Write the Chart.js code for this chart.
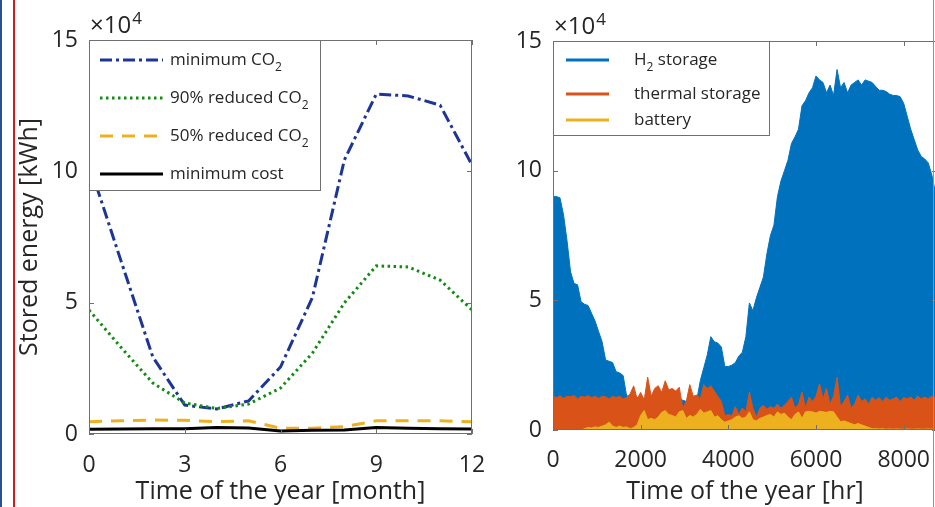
<!DOCTYPE html>
<html>
<head>
<meta charset="utf-8">
<script src="https://cdn.jsdelivr.net/npm/chart.js@4.4.0/dist/chart.umd.min.js"></script>
<style>
html, body { margin: 0; padding: 0; background: #fff; overflow: hidden; }
#wrap { position: relative; width: 935px; height: 507px; overflow: hidden; }
#left { position: absolute; left: 0; top: 0; }
#right { position: absolute; left: 480px; top: 0; }
.edge { position: absolute; top: 0; height: 507px; }
</style>
</head>
<body>
<div id="wrap">
  <canvas id="left" width="520" height="507"></canvas>
  <canvas id="right" width="480" height="507"></canvas>
  <div class="edge" style="left:0;width:2px;background:#2a4f93"></div>
  <div class="edge" style="left:13px;width:2px;background:#d11a1a"></div>
  <div class="edge" style="left:933px;width:1px;background:#e07070"></div>
</div>
<script>
// left panel: stored energy per month, in 10^4 kWh
const months = [0, 1, 2, 3, 4, 5, 6, 7, 8, 9, 10, 11, 12];
const minCO2    = [10.3, 6.6, 2.93, 1.1, 0.95, 1.26, 2.55, 5.2, 10.43, 12.94, 12.87, 12.52, 10.24];
const reduced90 = [4.72, 3.3, 1.94, 1.18, 0.97, 1.14, 1.75, 3.08, 4.99, 6.4, 6.36, 5.86, 4.72];
const reduced50 = [0.47, 0.5, 0.53, 0.52, 0.47, 0.5, 0.22, 0.22, 0.28, 0.5, 0.5, 0.5, 0.47];
const minCost   = [0.18, 0.19, 0.2, 0.2, 0.25, 0.23, 0.11, 0.14, 0.15, 0.25, 0.22, 0.2, 0.19];
const monthTicks = [0, 3, 6, 9, 12];

// right panel: storage level over the year (hours), in 10^4 kWh
const hours = [
  0, 80, 160, 240, 320, 400, 480, 560, 640, 720,
  800, 880, 960, 1040, 1120, 1200, 1280, 1360, 1440, 1520,
  1600, 1680, 1760, 1840, 1920, 2000, 2080, 2160, 2240, 2320,
  2400, 2480, 2560, 2640, 2720, 2800, 2880, 2960, 3040, 3120,
  3200, 3280, 3360, 3440, 3520, 3600, 3680, 3760, 3840, 3920,
  4000, 4080, 4160, 4240, 4320, 4400, 4480, 4560, 4640, 4720,
  4800, 4880, 4960, 5040, 5120, 5200, 5280, 5360, 5440, 5520,
  5600, 5680, 5760, 5840, 5920, 6000, 6080, 6160, 6240, 6320,
  6400, 6480, 6560, 6640, 6720, 6800, 6880, 6960, 7040, 7120,
  7200, 7280, 7360, 7440, 7520, 7600, 7680, 7760, 7840, 7920,
  8000, 8080, 8160, 8240, 8320, 8400, 8480, 8560, 8640, 8720,
  8760
];
const h2Storage = [
  9.0, 9.0, 8.95, 8.3, 7.3, 6.1, 5.65, 5.6, 4.95, 4.85,
  4.8, 4.5, 4.2, 3.8, 3.4, 2.7, 2.65, 2.6, 2.25, 2.2,
  2.1, 1.3, 1.35, 1.3, 1.25, 1.3, 1.2, 1.25, 1.2, 1.25,
  1.2, 1.2, 1.25, 1.2, 1.2, 1.15, 1.2, 1.15, 1.1, 1.15,
  1.2, 1.15, 1.9, 2.4, 2.9, 3.6, 3.4, 3.35, 3.2, 2.45,
  2.45, 2.5, 2.6, 2.85, 3.0, 3.6, 4.9, 4.6, 5.1, 5.5,
  5.9, 6.8, 7.5, 7.9, 9.0, 9.6, 10.0, 10.4, 11.05, 11.3,
  11.6, 12.5, 12.7, 13.0, 13.2, 13.65, 13.5, 13.4, 13.0, 13.3,
  12.9, 13.9, 13.2, 13.4, 13.0, 13.3, 13.4, 13.5, 13.3, 13.5,
  13.45, 13.4, 13.25, 13.1, 13.1, 13.05, 12.95, 12.9, 12.9, 12.85,
  12.6, 12.1, 11.6, 11.2, 10.8, 10.55, 10.45, 10.3, 9.85, 9.2,
  8.9
];
const thermalStorage = [
  1.3, 1.25, 1.32, 1.22, 1.3, 1.28, 1.33, 1.2, 1.3, 1.27,
  1.32, 1.25, 1.3, 1.22, 1.3, 1.28, 1.2, 1.3, 1.25, 1.3,
  1.2, 1.25, 1.4, 1.7, 1.2, 1.45, 1.15, 2.04, 1.3, 1.6,
  1.71, 1.45, 1.9, 1.55, 1.6, 1.5, 1.65, 0.84, 1.1, 1.75,
  1.3, 1.35, 1.2, 1.75, 1.6, 1.7, 1.5, 1.3, 1.1, 0.55,
  0.6, 0.55, 0.9, 0.6, 0.85, 0.7, 1.46, 0.84, 0.5, 0.84,
  0.95, 0.8, 0.9, 0.84, 1.0, 0.84, 0.95, 1.1, 1.27, 0.84,
  1.0, 1.46, 0.85, 1.27, 1.1, 1.3, 1.78, 1.2, 1.6, 1.0,
  1.3, 2.04, 0.9, 1.1, 1.35, 0.85, 1.0, 1.35, 1.1, 1.2,
  1.0, 1.27, 1.15, 1.25, 1.1, 1.27, 1.15, 1.2, 1.27, 1.1,
  1.25, 1.2, 1.27, 1.15, 1.3, 1.2, 1.27, 1.2, 1.3, 1.25,
  1.3
];
const battery = [
  0, 0, 0, 0, 0, 0, 0, 0, 0, 0.05,
  0.1, 0.08, 0.12, 0.1, 0.15, 0.2, 0.3, 0.15, 0.1, 0.15,
  0.1, 0.12, 0.05, 0.1, 0.2, 0.56, 0.75, 0.4, 0.45, 0.4,
  0.5, 0.68, 0.75, 0.6, 0.56, 0.5, 0.7, 0.75, 0.45, 0.56,
  0.5, 0.6, 0.8, 0.65, 0.7, 0.75, 0.5, 0.55, 0.4, 0.3,
  0.35, 0.4, 0.5, 0.55, 0.45, 0.5, 0.7, 0.4, 0.35, 0.45,
  0.5, 0.56, 0.6, 0.5, 0.7, 0.6, 0.65, 0.5, 0.4, 0.6,
  0.7, 0.45, 0.7, 0.72, 0.7, 0.65, 0.72, 0.7, 0.68, 0.72,
  0.7, 0.5, 0.32, 0.35, 0.3, 0.25, 0.2, 0.25, 0.2, 0.15,
  0.1, 0.05, 0.05, 0.04, 0.05, 0.03, 0.04, 0.03, 0.04, 0.03,
  0.03, 0.04, 0.03, 0.03, 0.04, 0.03, 0.03, 0.04, 0.03, 0.03,
  0.03
];
const hourTicks = [0, 2000, 4000, 6000, 8000];
const energyTicks = [0, 5, 10, 15];

const FONT = '"Open Sans", "Noto Sans", sans-serif';
const TEXT = '#262626';
Chart.defaults.font.family = FONT;
Chart.defaults.color = TEXT;

const pts = (xs, ys) => xs.map((x, i) => ({ x: x, y: ys[i] }));
const plain = v => String(v);

// box round the plot area with inward ticks, matlab style
const boxPlugin = {
  id: 'box',
  afterDatasetsDraw(chart) {
    const { ctx, chartArea: a, scales } = chart;
    ctx.save();
    ctx.strokeStyle = '#707070';
    ctx.lineWidth = 1;
    ctx.strokeRect(a.left + 0.5, a.top + 0.5, a.right - a.left - 1, a.bottom - a.top - 1);
    ctx.beginPath();
    scales.x.ticks.forEach(t => {
      const px = Math.round(scales.x.getPixelForValue(t.value)) + 0.5;
      ctx.moveTo(px, a.bottom); ctx.lineTo(px, a.bottom - 5);
      ctx.moveTo(px, a.top); ctx.lineTo(px, a.top + 5);
    });
    scales.y.ticks.forEach(t => {
      const py = Math.round(scales.y.getPixelForValue(t.value)) + 0.5;
      ctx.moveTo(a.left, py); ctx.lineTo(a.left + 5, py);
      ctx.moveTo(a.right, py); ctx.lineTo(a.right - 5, py);
    });
    ctx.stroke();
    ctx.restore();
  }
};

function drawParts(ctx, x, y, parts, size) {
  let cx = x;
  parts.forEach(p => {
    const s = p.sub ? Math.round(size * 0.72) : size;
    ctx.font = s + 'px ' + FONT;
    ctx.fillText(p.t, cx, p.sub ? y + size * 0.42 : y);
    cx += ctx.measureText(p.t).width;
  });
}

const legendPlugin = {
  id: 'boxLegend',
  afterDraw(chart, args, o) {
    const ctx = chart.ctx;
    const a = chart.chartArea;
    ctx.save();
    // x10^4 multiplier
    ctx.fillStyle = TEXT;
    ctx.textBaseline = 'alphabetic';
    ctx.font = '24px ' + FONT;
    ctx.fillText('\u00d710', a.left + 1, a.top - 7);
    const w = ctx.measureText('\u00d710').width;
    ctx.font = '17px ' + FONT;
    ctx.fillText('4', a.left + 2 + w, a.top - 16);

    const [l, t, r, b] = o.box;
    ctx.fillStyle = '#fff';
    ctx.fillRect(l, t, r - l, b - t);
    ctx.strokeStyle = '#707070';
    ctx.lineWidth = 1;
    ctx.strokeRect(l + 0.5, t + 0.5, r - l - 1, b - t - 1);
    o.items.forEach(it => {
      ctx.beginPath();
      ctx.strokeStyle = it.color;
      ctx.lineWidth = 3;
      ctx.setLineDash(it.dash || []);
      ctx.moveTo(o.lineX[0], it.y);
      ctx.lineTo(o.lineX[1], it.y);
      ctx.stroke();
      ctx.setLineDash([]);
      ctx.fillStyle = TEXT;
      ctx.textBaseline = 'middle';
      drawParts(ctx, o.textX, it.y, it.parts, 17);
    });
    ctx.restore();
  }
};

function fixAxis(size, horizontal) {
  return s => {
    if (horizontal) s.height = size; else s.width = size;
    s.paddingLeft = 0; s.paddingRight = 0; s.paddingTop = 0; s.paddingBottom = 0;
  };
}

new Chart(document.getElementById('left'), {
  type: 'line',
  data: {
    datasets: [
      { data: pts(months, minCost), borderColor: '#000000', borderWidth: 3 },
      { data: pts(months, reduced50), borderColor: '#edb120', borderWidth: 3, borderDash: [13, 9] },
      { data: pts(months, reduced90), borderColor: '#118c11', borderWidth: 3, borderDash: [2.5, 3.5] },
      { data: pts(months, minCO2), borderColor: '#1c3596', borderWidth: 3, borderDash: [12, 4, 3, 4] }
    ]
  },
  options: {
    responsive: false,
    animation: false,
    devicePixelRatio: 1,
    elements: { point: { radius: 0 }, line: { tension: 0, fill: false } },
    layout: { padding: { left: 0, right: 48, top: 40, bottom: 0 } },
    plugins: {
      legend: { display: false },
      tooltip: { enabled: false },
      boxLegend: {
        box: [89, 40, 321, 191],
        lineX: [100, 163],
        textX: 170,
        items: [
          { y: 60, color: '#1c3596', dash: [12, 4, 3, 4], parts: [{ t: 'minimum CO' }, { t: '2', sub: true }] },
          { y: 98, color: '#118c11', dash: [2.5, 3.5], parts: [{ t: '90% reduced CO' }, { t: '2', sub: true }] },
          { y: 136, color: '#edb120', dash: [13, 9], parts: [{ t: '50% reduced CO' }, { t: '2', sub: true }] },
          { y: 174, color: '#000000', parts: [{ t: 'minimum cost' }] }
        ]
      }
    },
    scales: {
      x: {
        type: 'linear', min: 0, max: 12,
        afterBuildTicks: s => { s.ticks = monthTicks.map(v => ({ value: v })); },
        afterFit: fixAxis(73, true),
        grid: { display: false, drawTicks: false },
        border: { display: false },
        ticks: { font: { size: 23 }, color: TEXT, padding: 18, maxRotation: 0, callback: plain },
        title: { display: true, text: 'Time of the year [month]', font: { size: 25 }, color: TEXT, padding: { top: 0, bottom: 0 } }
      },
      y: {
        type: 'linear', min: 0, max: 15,
        afterBuildTicks: s => { s.ticks = energyTicks.map(v => ({ value: v })); },
        afterFit: fixAxis(89, false),
        grid: { display: false, drawTicks: false },
        border: { display: false },
        ticks: { font: { size: 23 }, color: TEXT, padding: 11, callback: plain },
        title: { display: true, text: 'Stored energy [kWh]', font: { size: 25 }, color: TEXT, padding: { top: 15, bottom: 0 } }
      }
    }
  },
  plugins: [boxPlugin, legendPlugin]
});

new Chart(document.getElementById('right'), {
  type: 'line',
  data: {
    datasets: [
      { data: pts(hours, h2Storage), borderColor: '#0072bd', backgroundColor: '#0072bd', order: 3 },
      { data: pts(hours, thermalStorage), borderColor: '#d95319', backgroundColor: '#d95319', order: 2 },
      { data: pts(hours, battery), borderColor: '#edb120', backgroundColor: '#edb120', order: 1 }
    ]
  },
  options: {
    responsive: false,
    animation: false,
    devicePixelRatio: 1,
    elements: { point: { radius: 0 }, line: { tension: 0, fill: 'origin', borderWidth: 1 } },
    layout: { padding: { left: 0, right: 23, top: 41, bottom: 0 } },
    plugins: {
      legend: { display: false },
      tooltip: { enabled: false },
      boxLegend: {
        box: [73, 41, 290, 136],
        lineX: [86, 129],
        textX: 154,
        items: [
          { y: 60, color: '#0072bd', parts: [{ t: 'H' }, { t: '2', sub: true }, { t: ' storage' }] },
          { y: 94, color: '#d95319', parts: [{ t: 'thermal storage' }] },
          { y: 120, color: '#edb120', parts: [{ t: 'battery' }] }
        ]
      }
    },
    scales: {
      x: {
        type: 'linear', min: 0, max: 8760,
        afterBuildTicks: s => { s.ticks = hourTicks.map(v => ({ value: v })); },
        afterFit: fixAxis(77, true),
        grid: { display: false, drawTicks: false },
        border: { display: false },
        ticks: { font: { size: 23 }, color: TEXT, padding: 17, maxRotation: 0, callback: plain },
        title: { display: true, text: 'Time of the year [hr]', font: { size: 25 }, color: TEXT, padding: { top: 0, bottom: 0 } }
      },
      y: {
        type: 'linear', min: 0, max: 15,
        afterBuildTicks: s => { s.ticks = energyTicks.map(v => ({ value: v })); },
        afterFit: fixAxis(73, false),
        grid: { display: false, drawTicks: false },
        border: { display: false },
        ticks: { font: { size: 23 }, color: TEXT, padding: 11, callback: plain }
      }
    }
  },
  plugins: [boxPlugin, legendPlugin]
});
</script>
</body>
</html>
